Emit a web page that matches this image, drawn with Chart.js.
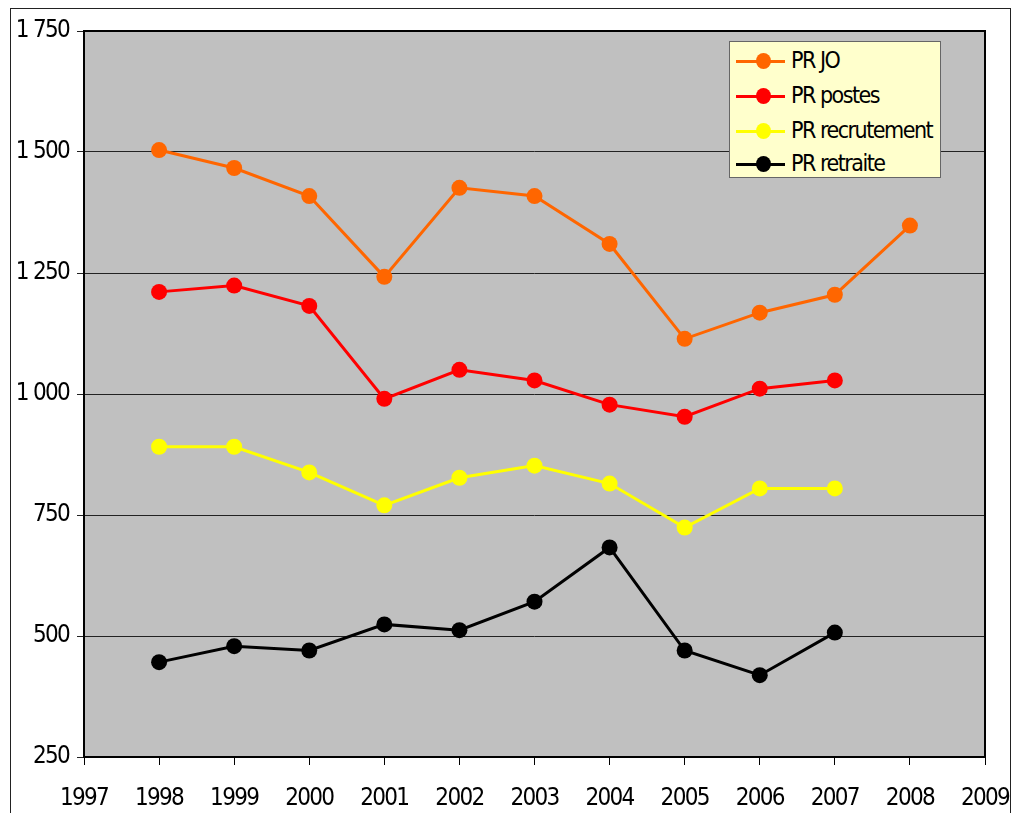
<!DOCTYPE html>
<html>
<head>
<meta charset="utf-8">
<script src="https://cdn.jsdelivr.net/npm/chart.js@4.4.0/dist/chart.umd.min.js"></script>
<style>
  body { margin:0; background:#fff; overflow:hidden; }
  #wrap { position:absolute; left:0; top:0; width:1012px; height:813px; }
  #frame { position:absolute; left:10px; top:8px; width:999px; height:820px; border:1px solid #222; pointer-events:none; }
  #legend { position:absolute; left:729px; top:41px; width:210px; height:135px; background:#FFFFCC; border:1px solid #666;
            font-family:"DejaVu Sans Condensed","DejaVu Sans",sans-serif; font-size:23px; letter-spacing:-1.5px; color:#000; }
  .row { position:absolute; left:0; height:30px; }
  .row .ln { position:absolute; left:6px; top:-1.5px; width:49px; height:3px; }
  .row .dot { position:absolute; left:26px; top:-8px; width:15px; height:16px; border-radius:50%; }
  .row .tx { position:absolute; left:61px; top:-14px; white-space:nowrap; }
</style>
</head>
<body>
<div id="wrap"><canvas id="chart"></canvas></div>
<div id="legend"></div>
<div id="frame"></div>
<script>
// =======================
// Data
// =======================
const years = [1998, 1999, 2000, 2001, 2002, 2003, 2004, 2005, 2006, 2007, 2008];
const prJO          = [1504, 1467, 1409, 1242, 1426, 1409, 1310, 1114, 1168, 1205, 1348];
const prPostes      = [1211, 1224, 1182,  990, 1050, 1028,  978,  953, 1011, 1028];
const prRecrutement = [ 891,  891,  838,  770,  827,  852,  815,  724,  805,  805];
const prRetraite    = [ 446,  479,  470,  524,  512,  571,  683,  470,  419,  507];

const seriesNames  = ["PR JO", "PR postes", "PR recrutement", "PR retraite"];
const seriesValues = [prJO, prPostes, prRecrutement, prRetraite];
const seriesColors = ["#FF6600", "#FF0000", "#FFFF00", "#000000"];

const xMin = 1997, xMax = 2009;
const yMin = 250, yMax = 1750, yStep = 250;

// =======================
// Helpers
// =======================
function frNumber(v) {
  return String(v).replace(/\B(?=(\d{3})+(?!\d))/g, " ");
}

const tickFont = { family: "'DejaVu Sans Condensed','DejaVu Sans',sans-serif", size: 24 };

// tighter text, like the narrow original font
const tightText = {
  id: "tightText",
  beforeLayout(chart) { chart.ctx.letterSpacing = "-1.7px"; },
  beforeDraw(chart) { chart.ctx.letterSpacing = "-1.7px"; }
};

// gray plot background + black frame
const plotBox = {
  id: "plotBox",
  beforeDraw(chart) {
    const a = chart.chartArea, c = chart.ctx;
    c.save();
    c.fillStyle = "#C0C0C0";
    c.fillRect(a.left, a.top, a.right - a.left, a.bottom - a.top);
    c.restore();
  },
  afterDatasetsDraw(chart) {
    const a = chart.chartArea, c = chart.ctx;
    c.save();
    c.strokeStyle = "#000";
    c.lineWidth = 2;
    c.strokeRect(a.left, a.top, a.right - a.left, a.bottom - a.top);
    c.restore();
  }
};

// =======================
// Chart
// =======================
const datasets = seriesNames.map((name, i) => ({
  label: name,
  data: seriesValues[i].map((v, j) => ({ x: years[j], y: v })),
  borderColor: seriesColors[i],
  backgroundColor: seriesColors[i],
  borderWidth: 3,
  pointRadius: 8,
  pointHoverRadius: 8,
  pointBorderWidth: 0,
  tension: 0
}));

new Chart(document.getElementById("chart").getContext("2d"), {
  type: "line",
  data: { datasets },
  options: {
    responsive: true,
    maintainAspectRatio: false,
    animation: false,
    layout: { padding: { left: 0, top: 31, right: 27, bottom: 0 } },
    plugins: { legend: { display: false }, tooltip: { enabled: false } },
    scales: {
      x: {
        type: "linear", min: xMin, max: xMax,
        ticks: { stepSize: 1, color: "#000", font: tickFont, padding: 19, maxRotation: 0, callback: v => String(v) },
        grid: { drawOnChartArea: false, color: "#000", tickLength: 8, lineWidth: 1 },
        border: { display: false },
        afterFit(s) { s.height = 56; s.paddingLeft = 0; s.paddingRight = 0; }
      },
      y: {
        min: yMin, max: yMax,
        ticks: { stepSize: yStep, color: "#000", font: tickFont, padding: 8, callback: v => frNumber(v) },
        grid: { color: "#222", tickLength: 7, lineWidth: 1 },
        border: { display: false },
        afterFit(s) { s.width = 84; s.paddingTop = 0; s.paddingBottom = 0; }
      }
    }
  },
  plugins: [tightText, plotBox]
});

// =======================
// Legend (HTML, inside plot)
// =======================
const legend = document.getElementById("legend");
const rowTops = [19, 54, 89, 122];
seriesNames.forEach((name, i) => {
  const r = document.createElement("div");
  r.className = "row";
  r.style.top = rowTops[i] + "px";
  r.innerHTML = `<div class="ln" style="background:${seriesColors[i]}"></div>` +
                `<div class="dot" style="background:${seriesColors[i]}"></div>` +
                `<div class="tx">${name}</div>`;
  legend.appendChild(r);
});
</script>
</body>
</html>
